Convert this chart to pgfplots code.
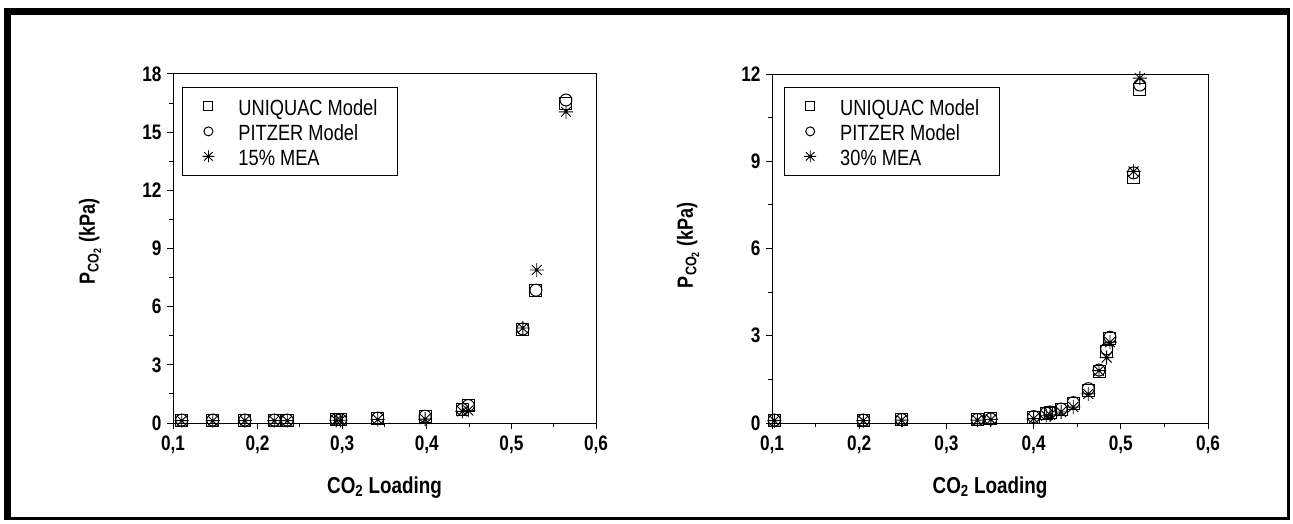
\documentclass[border=0pt]{standalone}
\usepackage{fontspec}
\setmainfont{Liberation Sans}[FakeStretch=0.83]
\newfontfamily\narrowfont{Liberation Sans}[FakeStretch=0.82]
\usepackage{pgfplots}
\pgfplotsset{compat=1.18}

\pgfdeclareplotmark{star8}{%
  \pgfpathmoveto{\pgfqpoint{-\pgfplotmarksize}{0pt}}%
  \pgfpathlineto{\pgfqpoint{\pgfplotmarksize}{0pt}}%
  \pgfpathmoveto{\pgfqpoint{0pt}{-\pgfplotmarksize}}%
  \pgfpathlineto{\pgfqpoint{0pt}{\pgfplotmarksize}}%
  \pgfpathmoveto{\pgfqpoint{-0.7071\pgfplotmarksize}{-0.7071\pgfplotmarksize}}%
  \pgfpathlineto{\pgfqpoint{0.7071\pgfplotmarksize}{0.7071\pgfplotmarksize}}%
  \pgfpathmoveto{\pgfqpoint{-0.7071\pgfplotmarksize}{0.7071\pgfplotmarksize}}%
  \pgfpathlineto{\pgfqpoint{0.7071\pgfplotmarksize}{-0.7071\pgfplotmarksize}}%
  \pgfusepathqstroke}

\pgfplotsset{
  myaxis/.style={
    scale only axis, height=349pt, anchor=south west,
    xmin=0.1, xmax=0.6, ymin=0,
    xtick={0.1,0.2,0.3,0.4,0.5,0.6},
    xticklabels={{0,1},{0,2},{0,3},{0,4},{0,5},{0,6}},
    minor x tick num=1, minor y tick num=1,
    tick align=outside, tick pos=left,
    major tick length=6pt, minor tick length=4pt,
    axis line style={line width=1pt},
    every tick/.style={black, line width=1pt},
    /pgf/number format/assume math mode=true,
    tick label style={font=\narrowfont\fontsize{21}{25}\selectfont\bfseries},
    xticklabel style={yshift=-3pt},
    yticklabel style={xshift=-2pt},
    xlabel={CO\textsubscript{2} Loading},
    ylabel={P\textsubscript{CO\textsubscript{2}} (kPa)},
    xlabel style={font=\narrowfont\fontsize{23}{27}\selectfont\bfseries, at={(axis description cs:0.5,-0.2006)}, anchor=base},
    legend cell align=left,
    legend image code/.code={\draw[mark repeat=2,mark phase=2,##1] plot coordinates {(0pt,0pt)(5pt,0pt)(10pt,0pt)};},
    legend style={anchor=north west, draw=black, line width=0.9pt,
      inner xsep=20pt, inner ysep=10pt, row sep=7pt, column sep=24pt,
      font=\fontsize{22}{26}\selectfont,
      nodes={inner sep=0pt, text height=18pt, text depth=0pt}},
  },
  sq/.style={only marks, mark=square, mark size=6pt, mark options={line width=1pt, black, solid}, legend image post style={mark size=4.5pt}},
  ci/.style={only marks, mark=o, mark size=6pt, mark options={line width=1pt, black, solid}, legend image post style={mark size=4.5pt}},
  st/.style={only marks, mark=star8, mark size=7pt, mark options={line width=0.9pt, black, solid}, legend image post style={mark size=6pt}},
}

\begin{document}
\begin{tikzpicture}
\path[use as bounding box] (0pt,0pt) rectangle (1293pt,523pt);
\fill[white] (0pt,0pt) rectangle (1293pt,523pt);
% frame
\fill[black] (4pt,508pt) rectangle (1290pt,515pt);
\fill[black] (4pt,3pt) rectangle (11pt,515pt);
\fill[black] (1287pt,3pt) rectangle (1290pt,515pt);
\fill[black] (4pt,3pt) rectangle (1290pt,6pt);

\begin{axis}[myaxis, at={(173pt,100pt)}, width=423pt,
  ymax=18, ytick={0,3,6,9,12,15,18}, yticklabels={0,3,6,9,12,15,18},
  ylabel style={font=\narrowfont\fontsize{22}{26}\selectfont\bfseries, at={(axis description cs:-0.196,0.52)}, anchor=center},
  legend style={at={(axis description cs:0.0213,0.963)}}]
\addplot[sq] coordinates {
(0.1103,0.15) (0.147,0.15) (0.185,0.15) (0.2197,0.15) (0.235,0.15)
(0.293,0.17) (0.298,0.17) (0.342,0.25) (0.398,0.33) (0.442,0.68)
(0.449,0.88) (0.5135,4.8) (0.529,6.82) (0.5645,16.5)};
\addlegendentry{UNIQUAC Model}
\addplot[ci] coordinates {
(0.1103,0.15) (0.147,0.15) (0.185,0.15) (0.2197,0.15) (0.235,0.15)
(0.293,0.17) (0.298,0.17) (0.342,0.25) (0.398,0.35) (0.442,0.7)
(0.449,0.9) (0.5135,4.85) (0.529,6.85) (0.5645,16.66)};
\addlegendentry{PITZER Model}
\addplot[st] coordinates {
(0.1103,0.12) (0.147,0.12) (0.185,0.12) (0.2197,0.12) (0.235,0.12)
(0.293,0.14) (0.298,0.14) (0.342,0.18) (0.398,0.2) (0.442,0.6)
(0.449,0.65) (0.5135,4.9) (0.530,7.89) (0.5645,16.05)};
\addlegendentry{15\% MEA}
\end{axis}

\begin{axis}[myaxis, at={(772pt,100pt)}, width=436pt,
  ymax=12, ytick={0,3,6,9,12}, yticklabels={0,3,6,9,12},
  ylabel style={font=\narrowfont\fontsize{22}{26}\selectfont\bfseries, at={(axis description cs:-0.1927,0.51)}, anchor=center},
  legend style={at={(axis description cs:0.027,0.963)}}]
\addplot[sq] coordinates {
(0.1027,0.1) (0.2047,0.1) (0.2487,0.12) (0.3355,0.12) (0.351,0.14)
(0.4,0.2) (0.4145,0.32) (0.419,0.36) (0.4315,0.46) (0.4455,0.68)
(0.4627,1.12) (0.475,1.78) (0.4838,2.45) (0.4876,2.9) (0.5146,8.45) (0.5218,11.45)};
\addlegendentry{UNIQUAC Model}
\addplot[ci] coordinates {
(0.1027,0.1) (0.2047,0.1) (0.2487,0.12) (0.3355,0.12) (0.351,0.14)
(0.4,0.22) (0.4145,0.34) (0.419,0.38) (0.4315,0.48) (0.4455,0.7)
(0.4627,1.18) (0.475,1.82) (0.4838,2.55) (0.4876,2.95) (0.5146,8.6) (0.5218,11.62)};
\addlegendentry{PITZER Model}
\addplot[st] coordinates {
(0.1027,0.08) (0.2047,0.08) (0.2487,0.1) (0.3355,0.1) (0.351,0.12)
(0.4,0.15) (0.4145,0.25) (0.419,0.28) (0.4315,0.38) (0.4455,0.55)
(0.4627,1.0) (0.475,1.8) (0.4838,2.25) (0.4876,2.78) (0.5146,8.65) (0.5218,11.86)};
\addlegendentry{30\% MEA}
\end{axis}
\end{tikzpicture}
\end{document}
